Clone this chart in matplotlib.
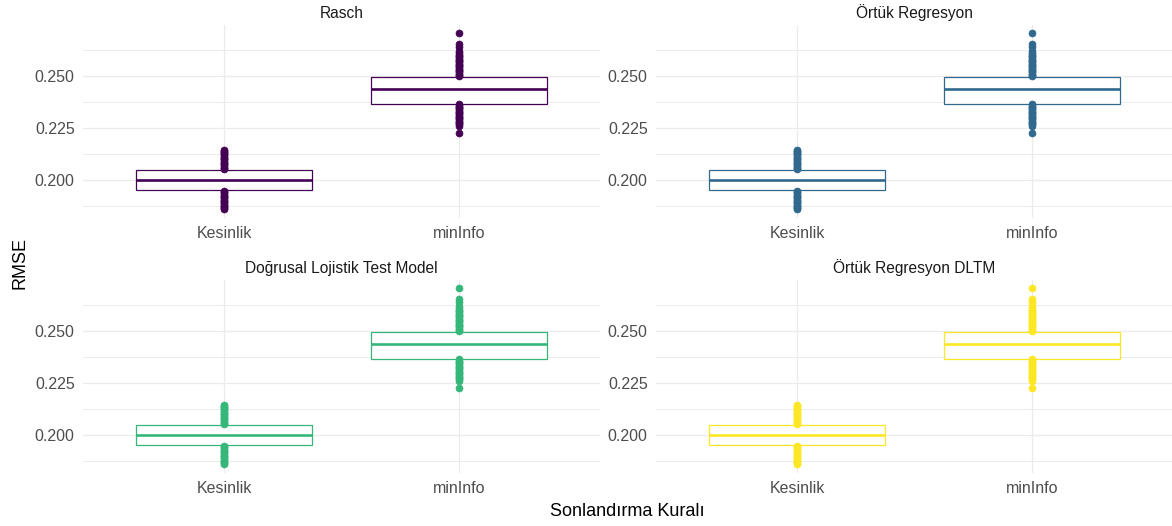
import matplotlib
matplotlib.use("Agg")
import matplotlib.pyplot as plt

plt.rcParams['font.family'] = ['Liberation Sans', 'DejaVu Sans']

# facet titles and box colours (viridis, 4 levels)
models = ['Rasch', 'Örtük Regresyon', 'Doğrusal Lojistik Test Model', 'Örtük Regresyon DLTM']
colors = ['#440154', '#31688E', '#35B779', '#FDE725']
rules = ['Kesinlik', 'minInfo']

# box statistics (same in every facet)
q1 = [0.1951, 0.2367]
med = [0.1998, 0.2436]
q3 = [0.2049, 0.2497]

# outlying points
fliers_kesinlik = [0.2052, 0.2058, 0.2064, 0.2070, 0.2076, 0.2082, 0.2088, 0.2094, 0.2100,
                   0.2106, 0.2112, 0.2118, 0.2124, 0.2130, 0.2136, 0.2141, 0.2146,
                   0.1948, 0.1942, 0.1936, 0.1930, 0.1924, 0.1918, 0.1912, 0.1906, 0.1900,
                   0.1894, 0.1888, 0.1882, 0.1876, 0.1870, 0.1865, 0.1861]
fliers_mininfo = [0.2500, 0.2506, 0.2512, 0.2518, 0.2524, 0.2530, 0.2536, 0.2542, 0.2548,
                  0.2554, 0.2560, 0.2566, 0.2572, 0.2578, 0.2584, 0.2590, 0.2596, 0.2602,
                  0.2612, 0.2622, 0.2640, 0.2655, 0.2705,
                  0.2364, 0.2358, 0.2352, 0.2346, 0.2340, 0.2334, 0.2328, 0.2322, 0.2316,
                  0.2310, 0.2304, 0.2298, 0.2292, 0.2286, 0.2280, 0.2275, 0.2270, 0.2262,
                  0.2227]
fliers = [fliers_kesinlik, fliers_mininfo]

yticks = [0.200, 0.225, 0.250]
yminor = [0.1875, 0.2125, 0.2375, 0.2625]

W, H = 1172, 526
fig = plt.figure(figsize=(W / 100, H / 100), dpi=100)

# ggplot-like expansion of the y range
lo = min(min(f) for f in fliers)
hi = max(max(f) for f in fliers)
pad = 0.05 * (hi - lo)
ylim = (lo - pad, hi + pad)
px_per_unit = 2080
panel_h = (ylim[1] - ylim[0]) * px_per_unit
panel_w = 517
lefts = [83, 656]
tops = [24.6, 279.6]

stats = []
for i in range(2):
    stats.append(dict(q1=q1[i], med=med[i], q3=q3[i], whislo=q1[i], whishi=q3[i],
                      fliers=fliers[i], label=rules[i]))

for k, model in enumerate(models):
    r, c = divmod(k, 2)
    ax = fig.add_axes([lefts[c] / W, 1 - (tops[r] + panel_h) / H, panel_w / W, panel_h / H])
    col = colors[k]
    ax.bxp(stats, positions=[1, 2], widths=0.75, patch_artist=True, showcaps=False,
           boxprops=dict(facecolor='white', edgecolor=col, linewidth=0.9),
           medianprops=dict(color=col, linewidth=1.9),
           whiskerprops=dict(color=col, linewidth=0.9),
           flierprops=dict(marker='o', markerfacecolor=col, markeredgecolor=col,
                           markersize=5.0, markeredgewidth=0.5, linestyle='none'))
    ax.set_xlim(0.4, 2.6)
    ax.set_ylim(*ylim)
    ax.set_yticks(yticks)
    ax.set_yticklabels(['%.3f' % t for t in yticks])
    ax.set_yticks(yminor, minor=True)
    ax.set_xticks([1, 2])
    ax.set_xticklabels(rules)
    ax.grid(True, which='major', color='#EBEBEB', linewidth=0.9)
    ax.grid(True, which='minor', axis='y', color='#EBEBEB', linewidth=0.7)
    ax.set_axisbelow(True)
    for s in ax.spines.values():
        s.set_visible(False)
    ax.tick_params(which='both', length=0)
    ax.tick_params(axis='y', labelsize=11.5, labelcolor='#4D4D4D', pad=6)
    ax.tick_params(axis='x', labelsize=11.5, labelcolor='#4D4D4D', pad=6)
    ax.set_title(model, fontsize=11.2, color='#1A1A1A', pad=5)

fig.text(20 / W, 1 - 263 / H, 'RMSE', rotation=90, ha='center', va='center', fontsize=13)
fig.text(627 / W, 1 - 512 / H, 'Sonlandırma Kuralı', ha='center', va='center', fontsize=13)

fig.savefig('out.png', dpi=100, facecolor='white')
